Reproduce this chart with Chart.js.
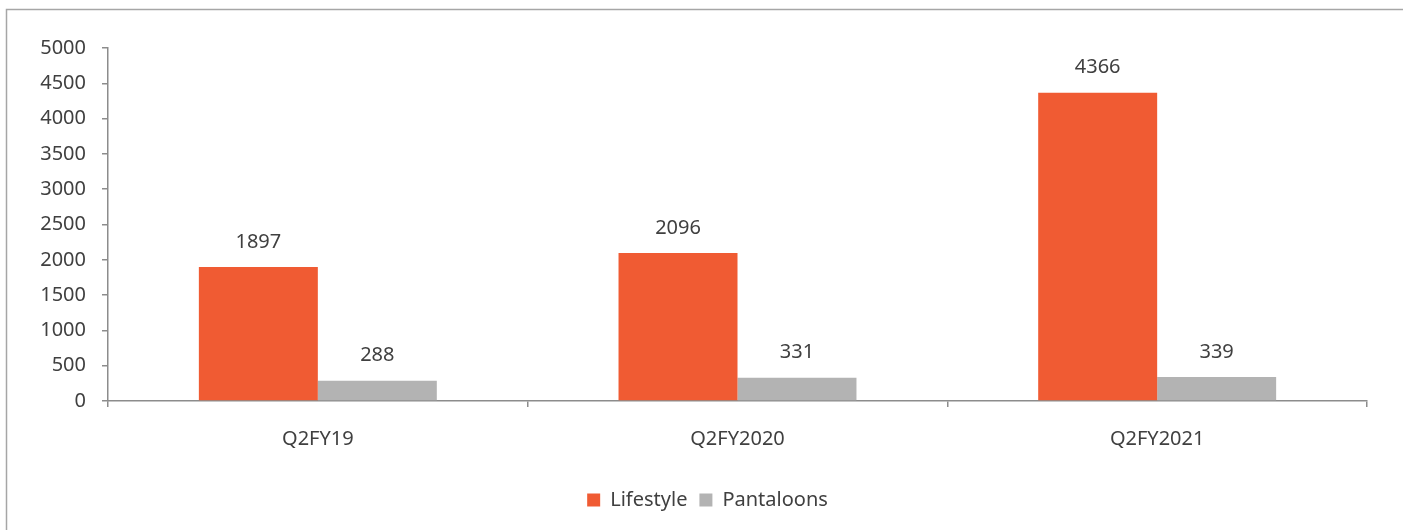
<!DOCTYPE html>
<html>
<head>
<meta charset="utf-8">
<script src="https://cdn.jsdelivr.net/npm/chart.js@4/dist/chart.umd.min.js"></script>
<style>
html,body{margin:0;padding:0;background:#fff;}
#wrap{position:relative;width:1403px;height:530px;}
</style>
</head>
<body>
<div id="wrap"><canvas id="c" width="1403" height="530"></canvas></div>
<script>
const categories = ['Q2FY19', 'Q2FY2020', 'Q2FY2021'];
const lifestyle = [1897, 2096, 4366];
const pantaloons = [288, 331, 339];
const seriesNames = ['Lifestyle', 'Pantaloons'];

const TEXT = '#404040';
const AXIS = '#8c8c8c';
const FONT = {family: "'Noto Sans', sans-serif", size: 20};

const frame = {
  id: 'frame',
  beforeDraw(chart) {
    const ctx = chart.ctx;
    ctx.save();
    ctx.strokeStyle = '#a6a6a6';
    ctx.lineWidth = 1.5;
    ctx.beginPath();
    ctx.moveTo(6.5, 530);
    ctx.lineTo(6.5, 9.5);
    ctx.lineTo(1403, 9.5);
    ctx.stroke();
    ctx.restore();
  }
};

const valueLabels = {
  id: 'valueLabels',
  afterDatasetsDraw(chart) {
    const ctx = chart.ctx;
    ctx.save();
    ctx.font = FONT.size + 'px ' + FONT.family;
    ctx.fillStyle = TEXT;
    ctx.textAlign = 'center';
    ctx.textBaseline = 'middle';
    chart.data.datasets.forEach((ds, i) => {
      chart.getDatasetMeta(i).data.forEach((bar, j) => {
        ctx.fillText(String(ds.data[j]), bar.x, bar.y - 25);
      });
    });
    ctx.restore();
  }
};

new Chart(document.getElementById('c'), {
  type: 'bar',
  data: {
    labels: categories,
    datasets: [
      {label: seriesNames[0], data: lifestyle, backgroundColor: '#F05B33'},
      {label: seriesNames[1], data: pantaloons, backgroundColor: '#B3B3B3'}
    ]
  },
  options: {
    responsive: false,
    animation: false,
    devicePixelRatio: 1,
    layout: {padding: {top: 48, right: 0, left: 12, bottom: 10}},
    datasets: {bar: {categoryPercentage: 0.567, barPercentage: 1.0}},
    plugins: {
      tooltip: {enabled: false},
      legend: {
        position: 'bottom',
        labels: {
          color: TEXT, font: FONT, boxWidth: 13, boxHeight: 13, padding: 12
        }
      }
    },
    scales: {
      x: {
        grid: {display: true, drawOnChartArea: false, drawTicks: true, tickLength: 6, color: AXIS, lineWidth: 1.5, offset: true},
        border: {display: true, color: AXIS, width: 1.5},
        ticks: {color: TEXT, font: FONT, padding: 20},
        afterFit(scale) { scale.height = 77; }
      },
      y: {
        min: 0, max: 5000,
        grid: {display: true, drawOnChartArea: false, drawTicks: true, tickLength: 6, color: AXIS, lineWidth: 1.5},
        border: {display: true, color: AXIS, width: 1.5},
        ticks: {color: TEXT, font: FONT, stepSize: 500, padding: 16, callback: (v) => String(v)},
        afterFit(scale) { scale.width = 96; }
      },
      spacer: {
        type: 'linear', position: 'right', display: true,
        grid: {display: false}, border: {display: false}, ticks: {display: false},
        afterFit(scale) { scale.width = 36; }
      }
    }
  },
  plugins: [frame, valueLabels]
});
</script>
</body>
</html>
